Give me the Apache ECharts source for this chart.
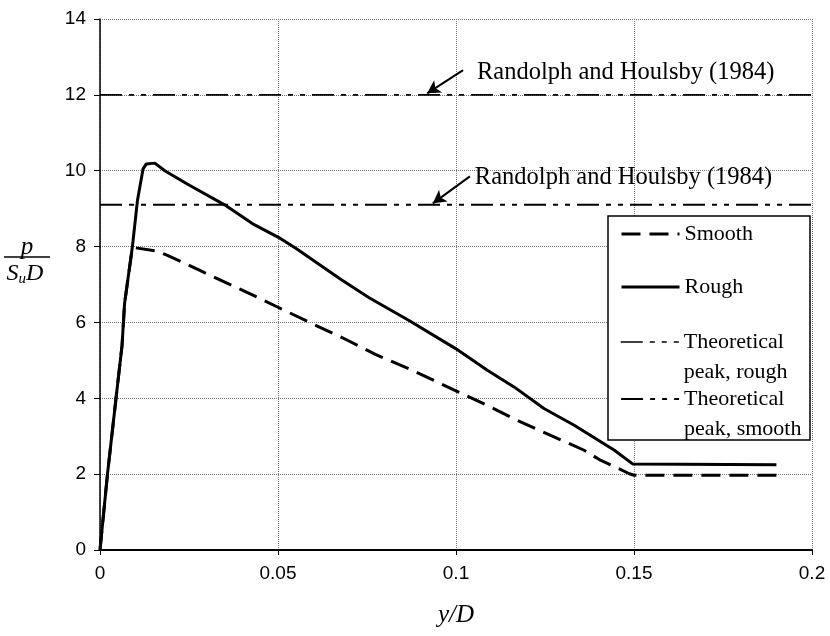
<!DOCTYPE html>
<html>
<head>
<meta charset="utf-8">
<script src="https://cdn.jsdelivr.net/npm/echarts@6/dist/echarts.min.js"></script>
<style>
  html, body { margin: 0; padding: 0; background: #fff; }
  #chart { width: 830px; height: 636px; }
</style>
</head>
<body>
<div id="chart"></div>
<script>
// Normalised pile load p/(Su D) against normalised displacement y/D
const roughCurve = [
  [0, 0], [0.0021, 2], [0.0045, 4], [0.0062, 5.4], [0.0069, 6.5], [0.0091, 8.0],
  [0.0105, 9.2], [0.0121, 10.05], [0.013, 10.18], [0.0154, 10.2], [0.0182, 10.0],
  [0.0245, 9.65], [0.035, 9.1], [0.0429, 8.6], [0.05, 8.25], [0.0551, 7.95],
  [0.0677, 7.13], [0.0756, 6.65], [0.0868, 6.05], [0.0999, 5.31], [0.1088, 4.74],
  [0.1163, 4.3], [0.1247, 3.73], [0.1332, 3.29], [0.1445, 2.63], [0.1496, 2.27],
  [0.19, 2.25]
];
const smoothCurve = [
  [0, 0], [0.0021, 2], [0.0045, 4], [0.0062, 5.4], [0.0069, 6.5], [0.0091, 7.98],
  [0.0159, 7.88], [0.0191, 7.76], [0.0252, 7.5], [0.0285, 7.35], [0.0425, 6.74],
  [0.05, 6.4], [0.0602, 5.94], [0.0691, 5.55], [0.0775, 5.15], [0.0868, 4.78],
  [0.0956, 4.39], [0.1088, 3.81], [0.1172, 3.42], [0.1266, 3.02], [0.136, 2.63],
  [0.1407, 2.36], [0.1445, 2.2], [0.1487, 2.01], [0.15, 1.97], [0.19, 1.97]
];
const peakRough = 12;    // theoretical limit, rough pile
const peakSmooth = 9.1;  // theoretical limit, smooth pile
const xExtent = [0, 0.2];
const yExtent = [0, 14];
const seriesNames = ['Smooth', 'Rough', 'Theoretical peak, rough', 'Theoretical peak, smooth'];
const noteText = 'Randolph and Houlsby (1984)';

// annotation anchors in data units: label start, arrow tail, arrow head
const noteRough = { label: [0.1059, 12.58], tail: [0.102, 12.65], head: [0.0919, 12.04] };
const noteSmooth = { label: [0.1053, 9.83], tail: [0.1039, 9.85], head: [0.0935, 9.14] };

const serif = 'Liberation Serif';
const sans = 'Liberation Sans';
const dashDotDot = [22, 7, 5, 7, 5, 7];

function flatLine(v) {
  return [[xExtent[0], v], [xExtent[1], v]];
}

function annotation(note) {
  return {
    markLine: {
      silent: true,
      symbol: ['none', 'arrow'],
      symbolSize: [11, 13],
      lineStyle: { color: '#000', width: 2, type: 'solid' },
      label: { show: false },
      data: [[{ coord: note.tail }, { coord: note.head }]]
    },
    markPoint: {
      silent: true,
      symbol: 'circle',
      symbolSize: 0,
      label: {
        show: true, position: 'right', distance: 0,
        formatter: noteText,
        fontFamily: serif, fontSize: 24.5, color: '#000'
      },
      data: [{ coord: note.label }]
    }
  };
}

// one legend block per entry so each sample sits level with the first text line
function legendEntry(name, top, sampleWidth, wrap) {
  const entry = {
    orient: 'vertical',
    left: 620,
    top: top,
    padding: 0,
    itemWidth: 58,
    itemHeight: 14,
    itemGap: 0,
    selectedMode: false,
    z: 10,
    itemStyle: { opacity: 0 },
    lineStyle: { width: sampleWidth },
    textStyle: { fontFamily: serif, fontSize: 22, color: '#000', lineHeight: 30 },
    data: [name]
  };
  if (wrap) {
    entry.formatter = (n) => '\n' + n.replace(' ', '\n');
  }
  return entry;
}

const chart = echarts.init(document.getElementById('chart'), null, { renderer: 'canvas' });

chart.setOption({
  animation: false,
  backgroundColor: '#fff',
  grid: { left: 100, right: 18, top: 19, bottom: 86, containLabel: false },
  xAxis: {
    type: 'value',
    min: xExtent[0], max: xExtent[1], interval: 0.05,
    name: 'y/D',
    nameLocation: 'middle',
    nameGap: 53,
    nameTextStyle: { fontFamily: serif, fontStyle: 'italic', fontSize: 25, color: '#000' },
    axisLine: { show: true, onZero: false, lineStyle: { color: '#000', width: 2 } },
    axisTick: { show: true, inside: false, length: 5, lineStyle: { color: '#000', width: 1 } },
    axisLabel: { fontFamily: sans, fontSize: 19, color: '#000', margin: 14 },
    splitLine: { show: true, lineStyle: { color: '#777', width: 1, type: 'dotted' } }
  },
  yAxis: {
    type: 'value',
    min: yExtent[0], max: yExtent[1], interval: 2,
    axisLine: { show: true, onZero: false, lineStyle: { color: '#000', width: 1.5 } },
    axisTick: { show: true, inside: false, length: 6, lineStyle: { color: '#000', width: 1 } },
    axisLabel: { fontFamily: sans, fontSize: 19, color: '#000', margin: 14 },
    splitLine: { show: true, lineStyle: { color: '#777', width: 1, type: 'dotted' } }
  },
  legend: [
    legendEntry(seriesNames[0], 219, 3, false),
    legendEntry(seriesNames[1], 272, 3, false),
    legendEntry(seriesNames[2], 297, 1.5, true),
    legendEntry(seriesNames[3], 354, 2.2, true)
  ],
  graphic: [
    {
      type: 'rect', z: 5, silent: true,
      shape: { x: 608, y: 216, width: 202, height: 224 },
      style: { fill: '#fff', stroke: '#000', lineWidth: 1.5 }
    },
    {
      type: 'text', z: 10, silent: true,
      style: { x: 27, y: 247, text: 'p', align: 'center', verticalAlign: 'middle',
               font: 'italic 25px "Liberation Serif"', fill: '#000' }
    },
    {
      type: 'line', z: 10, silent: true,
      shape: { x1: 4, y1: 257, x2: 50, y2: 257 },
      style: { stroke: '#000', lineWidth: 1.5 }
    },
    {
      type: 'text', z: 10, silent: true,
      style: {
        x: 25, y: 274, align: 'center', verticalAlign: 'middle',
        text: '{s|S}{u|u}{s|D}',
        rich: {
          s: { fontFamily: serif, fontStyle: 'italic', fontSize: 24, fill: '#000' },
          u: { fontFamily: serif, fontStyle: 'italic', fontSize: 15, fill: '#000', padding: [11, 0, 0, 0] }
        }
      }
    }
  ],
  series: [
    {
      name: seriesNames[0], type: 'line', data: smoothCurve, symbol: 'none', z: 3,
      color: '#000',
      lineStyle: { color: '#000', width: 3, type: [19, 9] }
    },
    {
      name: seriesNames[1], type: 'line', data: roughCurve, symbol: 'none', z: 3,
      color: '#000',
      lineStyle: { color: '#000', width: 3, type: 'solid' }
    },
    Object.assign({
      name: seriesNames[2], type: 'line', data: flatLine(peakRough), symbol: 'none', z: 2,
      color: '#000',
      lineStyle: { color: '#000', width: 1.8, type: dashDotDot }
    }, annotation(noteRough)),
    Object.assign({
      name: seriesNames[3], type: 'line', data: flatLine(peakSmooth), symbol: 'none', z: 2,
      color: '#000',
      lineStyle: { color: '#000', width: 2, type: dashDotDot }
    }, annotation(noteSmooth))
  ]
});
</script>
</body>
</html>
